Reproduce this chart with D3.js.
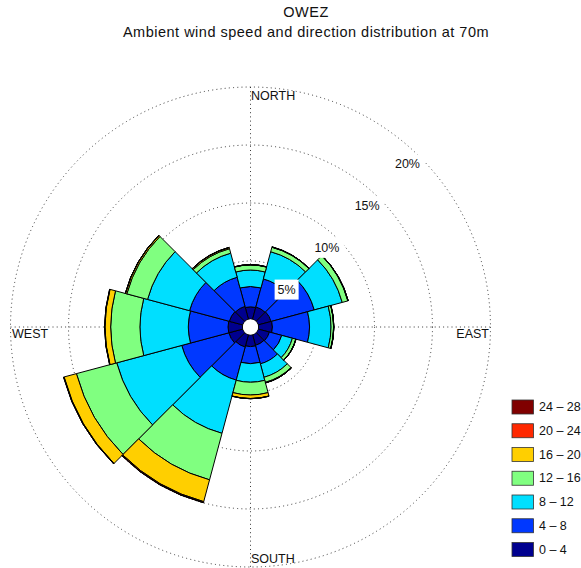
<!DOCTYPE html>
<html>
<head>
<meta charset="utf-8">
<script src="https://cdn.jsdelivr.net/npm/d3@7"></script>
<style>
  html, body { margin: 0; padding: 0; background: #fff; }
  svg { display: block; font-family: "Liberation Sans", Arial, Helvetica, sans-serif; }
</style>
</head>
<body>
<svg id="chart" width="581" height="568"></svg>
<script>
// Direction sectors (compass degrees, sector centres) and speed classes (m/s)
const directions = [0, 30, 60, 90, 120, 150, 180, 210, 240, 270, 300, 330];
const speedBins = ["0 – 4", "4 – 8", "8 – 12", "12 – 16", "16 – 20", "20 – 24", "24 – 28"];
const binColors = ["#00008f", "#0038ff", "#00dfff", "#80ff80", "#ffcf00", "#ff2800", "#800000"];

// Frequency of occurrence (%) per direction, one array per speed class
const freq0to4   = [1.05, 1.10, 1.15, 1.20, 1.00, 0.95, 1.00, 1.10, 1.25, 1.25, 1.20, 1.15];
const freq4to8   = [1.75, 2.50, 3.85, 3.20, 1.10, 1.65, 1.47, 2.95, 4.20, 3.42, 3.55, 2.60];
const freq8to12  = [1.42, 2.43, 2.50, 1.85, 0.95, 1.20, 1.60, 4.75, 5.80, 4.17, 3.75, 2.15];
const freq12to16 = [0.44, 0.40, 0.50, 0.22, 0.30, 0.45, 1.10, 4.15, 3.60, 2.52, 1.85, 0.40];
const freq16to20 = [0.02, 0.03, 0.03, 0.02, 0.02, 0.05, 0.30, 1.95, 1.10, 0.49, 0.12, 0.10];
const freq20to24 = [0.00, 0.00, 0.00, 0.00, 0.00, 0.00, 0.02, 0.08, 0.04, 0.03, 0.02, 0.02];
const freq24to28 = [0.00, 0.00, 0.00, 0.00, 0.00, 0.00, 0.00, 0.02, 0.01, 0.00, 0.00, 0.00];

const ringTicks = [5, 10, 15, 20];
const titleLines = ["OWEZ", "Ambient wind speed and direction distribution at 70m"];

// ---- layout ----
const svg = d3.select("#chart");
const cx = 250.5, cy = 327;
const sectorWidth = 30;
const toRad = d => d * Math.PI / 180;

const r = d3.scaleLinear().domain([0, 20]).range([8, 240]);

// table for stacking
const series = [freq0to4, freq4to8, freq8to12, freq12to16, freq16to20, freq20to24, freq24to28];
const table = directions.map((dir, i) => {
  const row = { dir };
  speedBins.forEach((b, k) => { row[b] = series[k][i]; });
  return row;
});
const stacked = d3.stack().keys(speedBins)(table);

const g = svg.append("g").attr("transform", `translate(${cx},${cy})`);

// dotted grid: rings and cross axes
const grid = g.append("g")
  .attr("fill", "none")
  .attr("stroke", "#222")
  .attr("stroke-width", 0.9)
  .attr("stroke-dasharray", "1,3.2");

grid.selectAll("circle").data(ringTicks).join("circle")
  .attr("r", d => r(d));

grid.append("line")
  .attr("x1", 0).attr("x2", 0)
  .attr("y1", -r(20)).attr("y2", r(20));
grid.append("line")
  .attr("y1", 0).attr("y2", 0)
  .attr("x1", -r(20)).attr("x2", r(20));

// rose sectors
const arc = d3.arc()
  .innerRadius(d => r(d[0]))
  .outerRadius(d => r(d[1]))
  .startAngle(d => toRad(d.data.dir - sectorWidth / 2))
  .endAngle(d => toRad(d.data.dir + sectorWidth / 2));

const layers = g.append("g").attr("class", "rose");
stacked.forEach((layer, k) => {
  layers.append("g")
    .attr("fill", binColors[k])
    .selectAll("path").data(layer).join("path")
    .attr("d", arc)
    .attr("stroke", "#000")
    .attr("stroke-width", 1)
    .attr("stroke-linejoin", "miter");
});

// white hub
g.append("circle").attr("r", r(0) - 0.5).attr("fill", "#fff");

// ring labels with white boxes
const labelAngle = toRad(44);
const ringLabels = g.append("g")
  .attr("font-size", 12.5)
  .attr("fill", "#111");
ringTicks.forEach(t => {
  const rr = r(t) - 14;
  const x = rr * Math.sin(labelAngle), y = -rr * Math.cos(labelAngle);
  const txt = ringLabels.append("text")
    .attr("x", x).attr("y", y)
    .attr("text-anchor", "middle")
    .attr("dominant-baseline", "central")
    .text(t + "%");
  const bb = txt.node().getBBox();
  ringLabels.insert("rect", "text")
    .attr("x", x - 12).attr("y", y - 10)
    .attr("width", Math.max(24, bb.width + 4)).attr("height", 20)
    .attr("fill", "#fff");
});
// move rects behind their text
ringLabels.selectAll("rect").lower();

// compass labels
const compass = svg.append("g").attr("font-size", 12.5).attr("fill", "#111");
compass.append("text").attr("x", cx + 0.5).attr("y", 99.5).text("NORTH");
compass.append("text").attr("x", cx + 0.5).attr("y", 563).text("SOUTH");
compass.append("text").attr("x", 12).attr("y", 338).text("WEST");
compass.append("text").attr("x", 489).attr("y", 338).attr("text-anchor", "end").text("EAST");

// title
const title = svg.append("g").attr("font-size", 14.5).attr("fill", "#111")
  .attr("text-anchor", "middle").attr("letter-spacing", 0.5);
titleLines.forEach((t, i) => {
  title.append("text").attr("x", 306).attr("y", 17 + i * 20).text(t);
});

// legend (highest class on top)
const legend = svg.append("g").attr("font-size", 12.5).attr("fill", "#111");
const legendOrder = speedBins.map((b, k) => k).reverse();
legendOrder.forEach((k, i) => {
  const top = 400 + i * 23.75;
  legend.append("rect")
    .attr("x", 512).attr("y", top)
    .attr("width", 21.5).attr("height", 14)
    .attr("fill", binColors[k])
    .attr("stroke", "#333").attr("stroke-width", 0.8);
  legend.append("text")
    .attr("x", 539).attr("y", top + 7)
    .attr("dominant-baseline", "central")
    .text(speedBins[k]);
});
</script>
</body>
</html>
